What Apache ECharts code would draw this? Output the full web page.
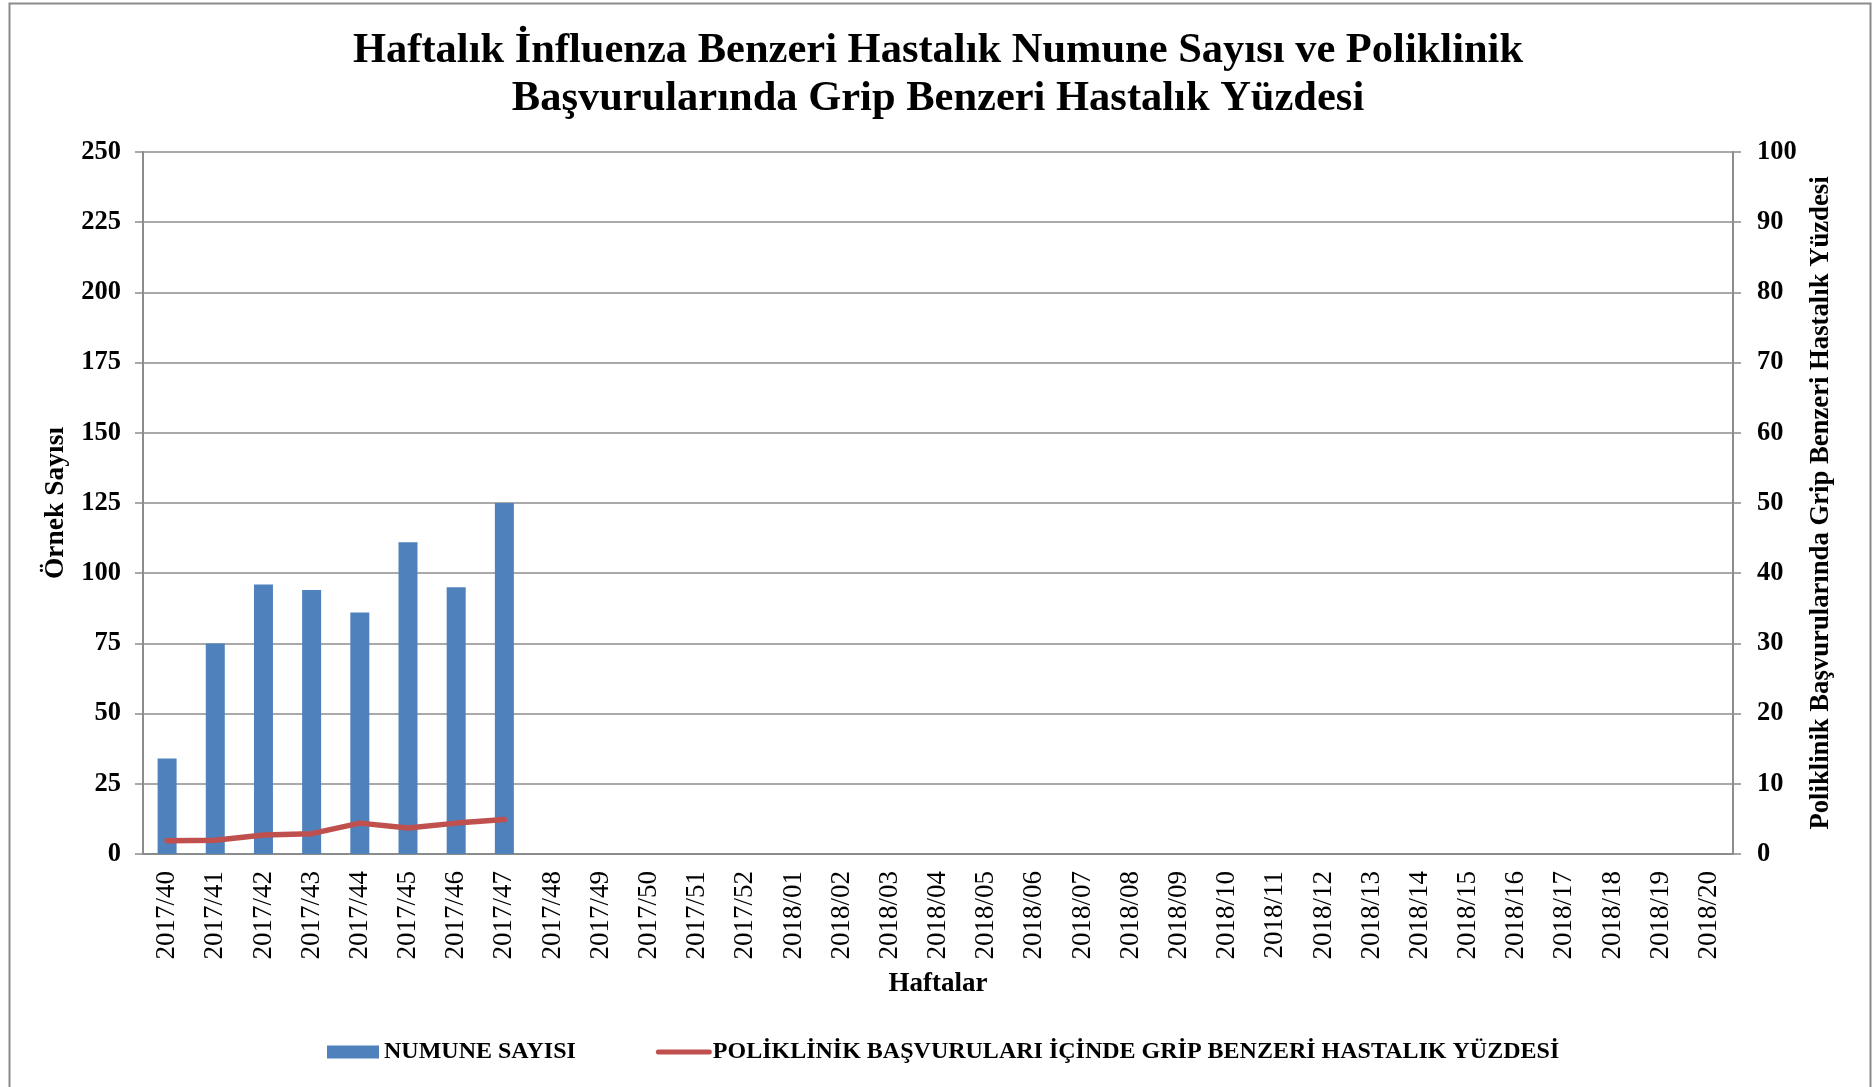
<!DOCTYPE html>
<html>
<head>
<meta charset="utf-8">
<script src="https://cdn.jsdelivr.net/npm/echarts@6/dist/echarts.min.js"></script>
<style>
html,body{margin:0;padding:0;background:#fff;}
#chart{width:1876px;height:1087px;}
</style>
</head>
<body>
<div id="chart"></div>
<script>
const weeks = ['2017/40','2017/41','2017/42','2017/43','2017/44','2017/45','2017/46','2017/47','2017/48','2017/49','2017/50','2017/51','2017/52','2018/01','2018/02','2018/03','2018/04','2018/05','2018/06','2018/07','2018/08','2018/09','2018/10','2018/11','2018/12','2018/13','2018/14','2018/15','2018/16','2018/17','2018/18','2018/19','2018/20'];
const sampleCounts = [34, 75, 96, 94, 86, 111, 95, 125];
const ilyPercent = [1.9, 1.95, 2.7, 2.9, 4.4, 3.7, 4.4, 4.9];
const leftTicks = {min: 0, max: 250, interval: 25};
const rightTicks = {min: 0, max: 100, interval: 10};

const FONT = "'Liberation Serif', 'Times New Roman', serif";
const GRID_COLOR = '#8c8c8c';
const BAR_ICON = 'path://M0,0L52,0L52,13L0,13Z M56,13L56,13';
const LINE_ICON = 'path://M0,0L0,0M56,13L56,13M2.5,4L53.5,4Q56,4 56,6.5Q56,9 53.5,9L2.5,9Q0,9 0,6.5Q0,4 2.5,4Z';

const chart = echarts.init(document.getElementById('chart'), null, {renderer: 'canvas'});
chart.setOption({
  backgroundColor: '#ffffff',
  animation: false,
  textStyle: {fontFamily: FONT},
  title: {
    text: 'Haftalık İnfluenza Benzeri Hastalık Numune Sayısı ve Poliklinik\nBaşvurularında Grip Benzeri Hastalık Yüzdesi',
    left: 'center',
    top: 22,
    textStyle: {fontFamily: FONT, fontWeight: 'bold', fontSize: 42.5, color: '#000', lineHeight: 48}
  },
  graphic: [{
    type: 'rect', left: 7, top: 1, silent: true,
    shape: {width: 1861, height: 1085},
    style: {fill: 'none', stroke: '#8a8a8a', lineWidth: 2}
  }],
  legend: {
    bottom: 18,
    left: 322,
    itemGap: 80,
    itemWidth: 56,
    itemHeight: 13,
    textStyle: {fontFamily: FONT, fontWeight: 'bold', fontSize: 24, color: '#000', padding: [0,0,0,-4]},
    data: [
      {name: 'NUMUNE SAYISI', icon: BAR_ICON, itemStyle: {color: '#4F81BD'}},
      {name: 'POLİKLİNİK BAŞVURULARI İÇİNDE GRİP BENZERİ HASTALIK YÜZDESİ', icon: LINE_ICON, itemStyle: {color: '#C0504D'}}
    ]
  },
  grid: {left: 143, right: 143, top: 152, bottom: 233, containLabel: false},
  xAxis: {
    type: 'category',
    data: weeks,
    name: 'Haftalar',
    nameLocation: 'middle',
    nameGap: 117,
    nameTextStyle: {fontFamily: FONT, fontWeight: 'bold', fontSize: 27, color: '#000'},
    axisLine: {lineStyle: {color: GRID_COLOR, width: 2}},
    axisTick: {show: false},
    axisLabel: {rotate: 90, interval: 0, margin: 17, fontFamily: FONT, fontSize: 27, color: '#000'}
  },
  yAxis: [{
    type: 'value',
    min: leftTicks.min, max: leftTicks.max, interval: leftTicks.interval,
    name: 'Örnek Sayısı',
    nameLocation: 'middle',
    nameRotate: 90,
    nameGap: 72,
    nameTextStyle: {fontFamily: FONT, fontWeight: 'bold', fontSize: 27.5, color: '#000'},
    axisLine: {show: true, lineStyle: {color: GRID_COLOR, width: 2}},
    axisTick: {show: true, inside: false, length: 8, lineStyle: {color: GRID_COLOR, width: 1.5}},
    axisLabel: {margin: 22, fontFamily: FONT, fontWeight: 'bold', fontSize: 26.5, color: '#000'},
    splitLine: {show: true, lineStyle: {color: GRID_COLOR, width: 1.5}}
  }, {
    type: 'value',
    position: 'right',
    min: rightTicks.min, max: rightTicks.max, interval: rightTicks.interval,
    name: 'Poliklinik Başvurularında Grip Benzeri Hastalık Yüzdesi',
    nameLocation: 'middle',
    nameRotate: 90,
    nameGap: 74,
    nameTextStyle: {fontFamily: FONT, fontWeight: 'bold', fontSize: 26.7, color: '#000'},
    axisLine: {show: true, lineStyle: {color: GRID_COLOR, width: 2}},
    axisTick: {show: true, inside: false, length: 8, lineStyle: {color: GRID_COLOR, width: 1.5}},
    axisLabel: {margin: 24, fontFamily: FONT, fontWeight: 'bold', fontSize: 26.5, color: '#000'},
    splitLine: {show: false}
  }],
  series: [{
    name: 'NUMUNE SAYISI',
    type: 'bar',
    yAxisIndex: 0,
    data: sampleCounts,
    barWidth: 19,
    itemStyle: {color: '#4F81BD'}
  }, {
    name: 'POLİKLİNİK BAŞVURULARI İÇİNDE GRİP BENZERİ HASTALIK YÜZDESİ',
    type: 'line',
    yAxisIndex: 1,
    data: ilyPercent,
    symbol: 'none',
    lineStyle: {color: '#C0504D', width: 5.5, cap: 'round', join: 'round'},
    itemStyle: {color: '#C0504D'}
  }]
});
</script>
</body>
</html>
